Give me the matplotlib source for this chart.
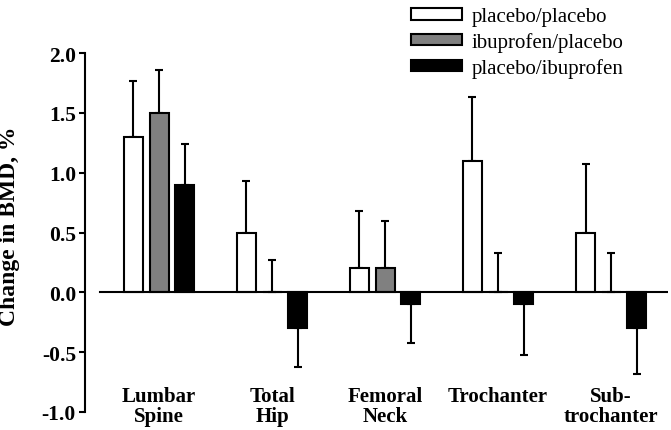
import numpy as np
import matplotlib.pyplot as plt

plt.rcParams['font.family'] = ['Liberation Serif', 'DejaVu Serif']

# dados
sites = ["Lumbar\nSpine", "Total\nHip", "Femoral\nNeck", "Trochanter", "Sub-\ntrochanter"]
grupos = ["placebo/placebo", "ibuprofen/placebo", "placebo/ibuprofen"]
cores = ["white", "#808080", "black"]

pp = [1.3, 0.5, 0.2, 1.1, 0.5]
pp_err = [0.47, 0.43, 0.48, 0.53, 0.57]
ip = [1.5, 0.0, 0.2, 0.0, 0.0]
ip_err = [0.36, 0.27, 0.40, 0.33, 0.33]
pi = [0.9, -0.3, -0.1, -0.1, -0.3]
pi_err = [0.34, 0.32, 0.32, 0.42, 0.38]

valores = [pp, ip, pi]
erros = [pp_err, ip_err, pi_err]

fig = plt.figure(figsize=(6.71, 4.31), dpi=100)
ax = fig.add_axes([85 / 671, 18 / 431, 583 / 671, 359 / 431])

x = np.arange(len(sites))
largura = 0.168
passo = 0.226

for k in range(3):
    v = np.array(valores[k])
    e = np.array(erros[k])
    pos = x + (k - 1) * passo
    ax.bar(pos, v, largura, color=cores[k], edgecolor="black",
           linewidth=1.5, label=grupos[k], zorder=2)
    # barra de erro só para o lado do valor
    baixo = np.where(v < 0, e, 0)
    cima = np.where(v >= 0, e, 0)
    ax.errorbar(pos, v, yerr=[baixo, cima], fmt="none", ecolor="black",
                elinewidth=1.5, capsize=3, capthick=1.5, zorder=1)

ax.plot([-0.522, 4.6], [0, 0], color="black", linewidth=1.5, zorder=3)

ax.set_xlim(-0.655, 4.504)
ax.set_ylim(-1.0, 2.0)
ax.set_yticks(np.arange(-1.0, 2.01, 0.5))
ax.set_yticklabels(["%.1f" % t for t in np.arange(-1.0, 2.01, 0.5)],
                   fontsize=15.5, fontweight="bold")
ax.set_xticks([])
for s in ["top", "right", "bottom"]:
    ax.spines[s].set_visible(False)
ax.spines["left"].set_linewidth(1.5)
ax.tick_params(axis="y", direction="out", length=4.5, width=1.5, pad=2)

for i, nome in enumerate(sites):
    ax.text(x[i], -0.78, nome, ha="center", va="top", fontsize=15,
            fontweight="bold", linespacing=1.05)

ax.set_ylabel("Change in BMD, %", fontsize=17, fontweight="bold")
ax.yaxis.set_label_coords(-0.112, 0.52)

ax.legend(loc="upper left", bbox_to_anchor=(403 / 671, 1.0), bbox_transform=fig.transFigure,
          frameon=False, fontsize=15, handlelength=2.45, handleheight=0.45,
          labelspacing=0.28, handletextpad=0.45, borderaxespad=0.0)

fig.savefig("out.png", dpi=100)
